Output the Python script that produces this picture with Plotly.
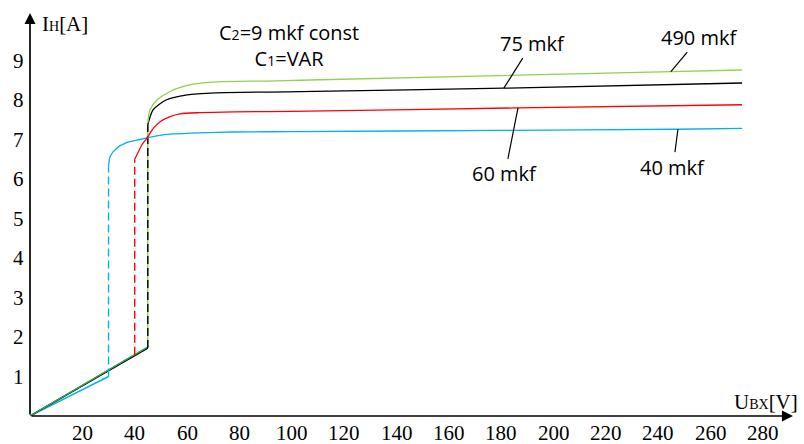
import numpy as np
import plotly.graph_objects as go

# ---------------- data ----------------
x_ticks = [20, 40, 60, 80, 100, 120, 140, 160, 180, 200, 220, 240, 260, 280]
y_ticks = [1, 2, 3, 4, 5, 6, 7, 8, 9]

labels = ["40 mkf", "60 mkf", "75 mkf", "490 mkf"]
colors = ["#00b0f0", "#ff0000", "#000000", "#92d050"]
lin_colors = ["#00b0f0", "#c00000", "#000000", "#2eaa5a"]

# switching voltage and current at switching (linear part ends)
u_switch = [30, 40, 45, 45]
i_switch = [1.0, 1.55, 1.72, 1.75]
# current where the solid curve starts after the jump
i_jump = [6.3, 6.5, 7.37, 7.42]

# solid curves after the jump
curve_x = [
    [30, 30.6, 33.1, 36.9, 42, 48.4, 54.6, 64.9, 77.5, 100, 180, 247, 272],
    [40, 41.4, 42.7, 44.6, 47.1, 49.7, 53.5, 57.3, 64.9, 78, 100, 186, 272],
    [45, 47, 52, 60, 71, 103, 181, 272],
    [45, 45.8, 48.5, 54.6, 62.3, 71.4, 90.5, 103, 245, 272],
]
curve_y = [
    [6.3, 6.57, 6.78, 6.92, 7.0, 7.09, 7.14, 7.17, 7.19, 7.2, 7.23, 7.26, 7.28],
    [6.5, 6.69, 6.86, 7.03, 7.28, 7.45, 7.58, 7.65, 7.68, 7.7, 7.71, 7.8, 7.88],
    [7.37, 7.75, 8.0, 8.13, 8.18, 8.21, 8.3, 8.43],
    [7.42, 7.75, 8.0, 8.25, 8.4, 8.46, 8.48, 8.5, 8.72, 8.76],
]

# callout positions: point on curve (x) and label position (x, y)
callout_x = [247.5, 186.4, 181.0, 244.8]
label_x = [245.6, 181.4, 191.8, 255.9]
label_y = [6.30, 6.13, 9.44, 9.59]

# ---------------- figure ----------------
W, H = 804, 444
ml, mr, mt, mb = 30, 11, 13, 28
px_per_x = 2.618
px_per_y = 39.5
x_max = (W - ml - mr) / px_per_x
y_max = (H - mt - mb) / px_per_y

fig = go.Figure()

# linear parts
for k in [0, 1, 2, 3]:
    fig.add_trace(go.Scatter(x=[0, u_switch[k]], y=[0, i_switch[k]], mode="lines",
                             line=dict(color=lin_colors[k], width=1.4),
                             hoverinfo="skip", showlegend=False))
# vertical jumps (green solid under black dashed)
for k in [0, 1, 3, 2]:
    dash = "solid" if k == 3 else "8px,4px"
    fig.add_trace(go.Scatter(x=[u_switch[k], u_switch[k]], y=[i_switch[k], i_jump[k]],
                             mode="lines",
                             line=dict(color=colors[k], width=1.4, dash=dash),
                             hoverinfo="skip", showlegend=False))
# curves
for k in [0, 1, 2, 3]:
    fig.add_trace(go.Scatter(x=curve_x[k], y=curve_y[k], mode="lines",
                             line=dict(color=colors[k], width=1.3, shape="spline", smoothing=0.7),
                             name=labels[k], hoverinfo="skip", showlegend=False))

txt_font = dict(family="Open Sans", size=20, color="black")

# callouts
for k in range(4):
    ty = float(np.interp(callout_x[k], curve_x[k], curve_y[k]))
    fig.add_annotation(x=callout_x[k], y=ty, xref="x", yref="y",
                       ax=label_x[k], ay=label_y[k], axref="x", ayref="y",
                       text=labels[k], showarrow=True, arrowhead=0,
                       arrowwidth=1.2, arrowcolor="black", standoff=0,
                       font=txt_font)

tick_font = dict(family="Liberation Serif", size=21, color="black")
# tick labels
for v in x_ticks:
    fig.add_annotation(x=v, y=0, xref="x", yref="y", text=str(v), showarrow=False,
                       xanchor="center", yanchor="top", yshift=-3, font=tick_font)
for v in y_ticks:
    fig.add_annotation(x=0, y=v, xref="x", yref="y", text=str(v), showarrow=False,
                       xanchor="right", yanchor="middle", xshift=-4, font=tick_font)

# axes with arrows
fig.add_annotation(x=1, y=0, xref="paper", yref="y", ax=-(W - ml - mr), ay=0,
                   axref="pixel", ayref="pixel", text="", showarrow=True,
                   arrowhead=2, arrowsize=1.3, arrowwidth=1.7, arrowcolor="black")
fig.add_annotation(x=0, y=1, xref="x", yref="paper", ax=0, ay=(H - mt - mb),
                   axref="pixel", ayref="pixel", text="", showarrow=True,
                   arrowhead=2, arrowsize=1.3, arrowwidth=1.7, arrowcolor="black")

# axis titles
fig.add_annotation(x=0, y=1, xref="x", yref="paper", xshift=10, yshift=-11,
                   xanchor="left", yanchor="middle", showarrow=False,
                   text="I<span style='font-size:14px'>H</span>[A]",
                   font=dict(family="Liberation Serif", size=21, color="black"))
fig.add_annotation(x=1, y=0, xref="paper", yref="y", xshift=7, yshift=14,
                   xanchor="right", yanchor="middle", showarrow=False,
                   text="U<span style='font-size:14px'>BX</span>[V]",
                   font=dict(family="Liberation Serif", size=21, color="black"))

# parameter text
fig.add_annotation(x=99, y=9.39, xref="x", yref="y", showarrow=False, align="center",
                   text="C<span style='font-size:14px'>2</span>=9 mkf const<br>C<span style='font-size:14px'>1</span>=VAR",
                   font=txt_font)

fig.update_layout(
    width=W, height=H,
    margin=dict(l=ml, r=mr, t=mt, b=mb),
    paper_bgcolor="white", plot_bgcolor="white",
    xaxis=dict(range=[0, x_max], visible=False, fixedrange=True),
    yaxis=dict(range=[0, y_max], visible=False, fixedrange=True),
)

fig.write_html("out.html", config={"displayModeBar": False},
               post_script="document.body.style.margin='0';")
